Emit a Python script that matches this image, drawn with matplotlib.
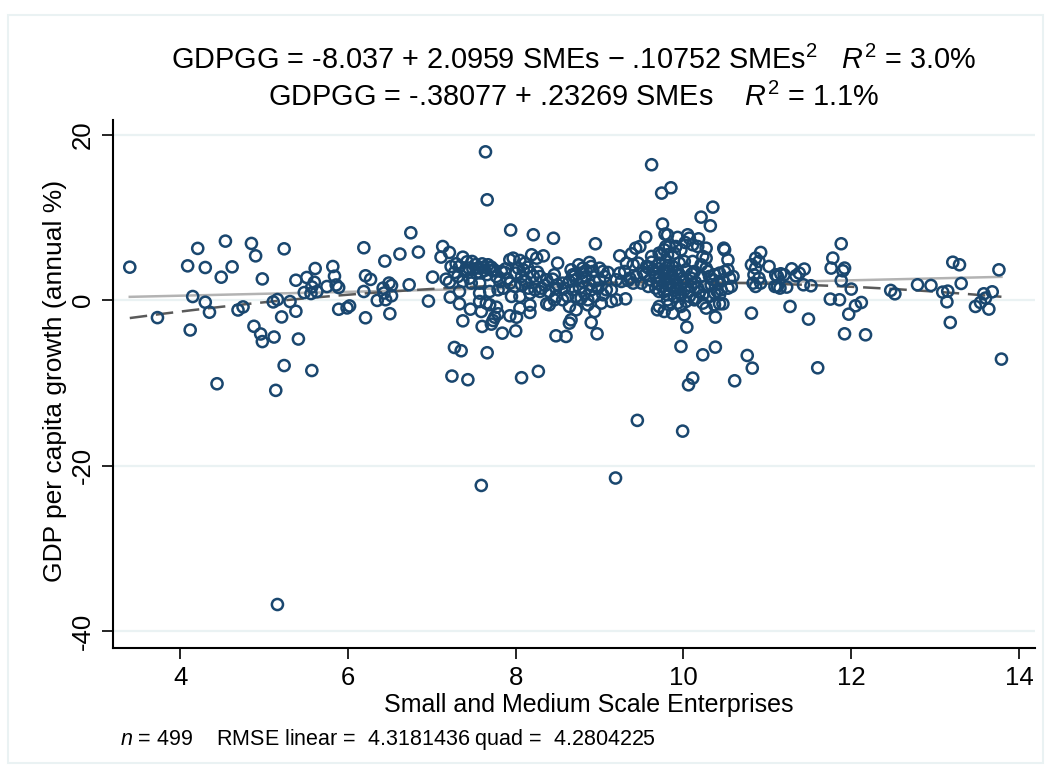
import numpy as np
import matplotlib
matplotlib.use('Agg')
from matplotlib import pyplot as plt
from matplotlib.patches import Rectangle

plt.rcParams['font.family'] = ['Liberation Sans', 'DejaVu Sans']
plt.rcParams['mathtext.fontset'] = 'custom'
plt.rcParams['mathtext.rm'] = 'Liberation Sans'
plt.rcParams['mathtext.it'] = 'Liberation Sans:italic'

# --- data (SMEs, GDP per capita growth) ---
# x from 3.4 to 6
smes_a = [3.40, 3.73, 4.09, 4.21, 4.15, 4.12, 4.30, 4.30, 4.35, 4.44, 4.54, 4.49, 4.62, 4.69, 4.75,
          4.85, 4.90, 4.98, 4.88, 4.96, 4.98, 5.12, 5.14, 5.24, 5.11, 5.16, 5.31, 5.21, 5.38, 5.38,
          5.41, 5.24, 5.57, 5.51, 5.61, 5.60, 5.57, 5.48, 5.56, 5.63, 5.75, 5.82, 5.84, 5.86, 5.89,
          5.89, 5.99, 6.02, 5.16]
gdp_a = [4.0, -2.1, 4.16, 6.27, 0.45, -3.6, 3.96, -0.24, -1.45, -10.1, 7.15, 2.79, 4.04, -1.18, -0.81,
         6.87, 5.37, 2.58, -3.15, -4.08, -5.0, -4.45, -10.9, 6.22, -0.2, 0.08, -0.16, -2.02, 2.42, -1.33,
         -4.69, -7.9, -8.5, 2.75, 3.84, 2.18, 1.61, 0.93, 0.81, 1.05, 1.66, 4.08, 2.91, 1.85, 1.54,
         -1.09, -0.93, -0.69, -36.8]

# x from 6 to 7.2 and the outliers around 7-10
smes_b = [7.64, 7.66, 6.75, 6.19, 6.62, 6.84, 6.44, 7.13, 7.11, 7.21, 7.94, 8.21, 8.45, 6.21, 6.27,
          6.19, 6.42, 6.49, 6.52, 6.43, 6.52, 6.45, 6.35, 6.73, 7.01, 6.96, 6.50, 6.21, 7.27, 7.35,
          7.24, 7.43, 7.66, 8.07, 8.27, 7.59, 9.19, 9.45, 9.99]
gdp_b = [17.95, 12.15, 8.16, 6.35, 5.59, 5.83, 4.74, 6.5, 5.22, 5.78, 8.49, 7.92, 7.5, 2.96, 2.52,
         1.06, 1.47, 2.08, 1.79, 0.87, 0.54, 0.06, -0.02, 1.87, 2.8, -0.1, -1.63, -2.12, -5.71, -6.11,
         -9.17, -9.61, -6.35, -9.37, -8.6, -22.4, -21.5, -14.53, -15.83]

# cluster from 7.2 to 8.5
smes_c = [7.37, 7.29, 7.23, 7.33, 7.42, 7.48, 7.27, 7.17, 7.21, 7.31, 7.41, 7.49, 7.53, 7.45, 7.37,
          7.47, 7.57, 7.62, 7.67, 7.71, 7.73, 7.77, 7.83, 7.87, 7.81, 7.93, 7.97, 8.05, 8.11, 8.14,
          8.19, 8.25, 8.33, 8.03, 8.09, 8.00, 8.07, 8.17, 8.26, 8.29, 8.37, 8.44, 8.50, 7.93, 7.99,
          8.07, 8.15, 8.23, 8.31, 8.40, 8.48, 7.85, 7.79, 7.33, 7.57, 7.69, 7.95, 8.05, 8.17, 8.29,
          8.48, 8.40, 8.46, 7.22, 7.33, 7.46, 7.59, 7.57, 7.65, 7.69, 7.77, 7.79, 7.75, 7.73, 7.71,
          7.37, 7.60, 7.84, 8.00, 7.93, 8.01, 8.05, 8.17, 8.17, 8.37, 8.48,
          7.55, 7.63, 7.69, 7.58, 7.66, 7.74, 7.52, 7.60, 7.44, 7.40, 7.90, 8.12, 8.21, 7.88, 8.35]
gdp_c = [5.21, 4.41, 4.08, 4.08, 4.65, 4.69, 3.36, 2.55, 2.19, 2.87, 3.68, 3.76, 3.28, 2.67, 2.27,
         2.07, 2.07, 4.0, 4.29, 4.0, 3.56, 2.87, 3.48, 3.36, 2.27, 4.89, 5.09, 4.81, 4.49, 4.0,
         5.5, 5.09, 5.37, 3.88, 3.68, 3.28, 2.87, 3.36, 3.4, 2.87, 2.47, 2.55, 4.49, 2.07, 1.67,
         1.87, 1.46, 1.26, 1.46, 1.06, 1.46, 1.46, 1.26, 1.06, 0.86, 1.06, 0.46, 0.46, 0.86, 1.06,
         0.46, -0.55, 0.05, 0.37, -0.43, -1.08, -1.36, -0.15, -0.35, -0.55, -0.84, -1.64, -2.05, -2.45, -2.89,
         -2.49, -3.17, -3.98, -3.7, -1.88, -2.05, -0.96, -0.59, -1.48, -0.43, -4.3,
         3.9, 3.6, 3.95, 3.3, 3.1, 3.7, 4.3, 4.4, 3.9, 3.5, 2.6, 2.3, 2.9, 3.8, 1.8]

# cluster from 8.5 to 9.8
smes_d = [8.95, 9.55, 9.81, 8.46, 8.66, 8.68, 8.75, 8.80, 8.78, 8.88, 8.90, 8.92, 8.84, 9.00, 9.04,
          9.10, 9.06, 9.00, 8.94, 8.88, 8.80, 8.72, 8.64, 8.56, 8.50, 8.58, 8.68, 8.76, 8.82, 8.90,
          8.98, 9.08, 9.14, 9.04, 8.94, 8.86, 8.78, 8.72, 8.62, 8.56, 8.64, 8.72, 8.86, 8.94, 9.02,
          9.14, 9.20, 9.31, 8.66, 8.64, 8.90, 8.97, 8.60, 9.24, 9.38, 9.43, 9.48, 9.62, 9.71, 9.79,
          9.32, 9.40, 9.46, 9.56, 9.64, 9.81, 9.24, 9.30, 9.20, 9.26, 9.36, 9.44, 9.54, 9.60, 9.67,
          9.81, 9.40, 9.50, 9.58, 9.67, 9.77, 9.69, 9.81, 9.62, 9.74, 9.85, 9.75, 9.69,
          9.52, 9.58, 9.65, 9.70, 9.62, 8.84, 8.70, 9.34]
gdp_d = [6.83, 7.63, 7.9, 3.08, 3.68, 3.08, 4.29, 3.88, 3.28, 4.57, 4.08, 3.48, 2.87, 3.88, 3.48,
         3.36, 2.87, 2.47, 2.27, 1.87, 2.27, 2.47, 2.27, 2.07, 1.87, 1.46, 1.26, 1.46, 0.86, 1.26,
         1.46, 1.26, 1.26, 0.66, 0.46, 0.05, 0.25, 0.46, 0.46, 0.05, -0.75, -1.16, -0.55, -1.36, -0.35,
         -0.15, 0.05, 0.17, -2.37, -2.77, -2.69, -4.06, -4.38, 5.37, 5.62, 6.3, 6.5, 5.3, 5.7, 6.5,
         4.49, 4.29, 4.49, 4.08, 3.68, 3.28, 3.28, 3.48, 2.47, 2.27, 2.67, 2.87, 3.08, 2.47, 2.87,
         1.87, 2.07, 2.07, 1.67, 1.46, 1.06, -1.16, 0.05, 16.39, 12.96, 13.6, 9.21, 2.0,
         3.4, 3.9, 3.3, 3.8, 4.6, 3.6, 2.9, 2.4]

# cluster from 9.7 to 11.1
smes_e = [10.35, 10.21, 10.32, 9.93, 10.05, 10.07, 10.18, 10.02, 10.11, 10.17, 10.27, 9.91, 9.83, 9.77,
          9.97, 9.89, 9.81, 9.73, 9.71, 9.79, 9.87, 9.95, 10.01, 10.11, 10.23, 10.27, 10.21, 10.27,
          10.29, 10.03, 10.13, 9.93, 9.83, 9.77, 9.71, 9.79, 9.89, 9.99, 10.09, 10.21, 10.31, 10.37,
          10.43, 10.49, 10.53, 10.55, 10.59, 10.47, 10.41, 10.33, 10.25, 10.17, 10.09, 10.01, 9.93,
          9.85, 9.75, 9.71, 9.81, 9.89, 9.97, 10.07, 10.15, 10.23, 10.31, 10.37, 10.45, 10.53, 10.57,
          10.49, 10.53, 10.48, 10.43, 10.23, 10.13, 10.03, 9.93, 9.83, 9.71, 9.77, 9.87, 9.97, 10.01,
          10.27, 10.37, 10.43, 10.47, 10.38, 10.04, 9.97, 10.23, 10.38, 10.11, 10.06, 10.61, 10.76,
          10.82, 10.81, 10.92, 10.86, 10.90, 10.81, 11.02, 10.86, 10.84, 10.90, 10.83, 10.92, 10.86,
          11.10, 11.12, 9.78,
          9.80, 9.86, 9.92, 10.00, 10.06, 9.84, 9.90, 9.96, 10.14, 10.19, 9.76, 9.82, 10.10, 10.35, 10.40]
gdp_e = [11.26, 10.05, 9.0, 7.6, 7.92, 7.51, 7.43, 6.99, 6.71, 6.5, 6.3, 6.5, 6.5, 6.1,
         6.1, 5.7, 5.5, 5.5, 4.49, 4.69, 4.09, 4.49, 4.69, 4.69, 5.3, 5.09, 4.29, 3.88,
         3.48, 3.68, 3.48, 3.48, 3.48, 3.28, 2.88, 2.47, 2.47, 2.67, 2.67, 2.88, 2.88, 3.08,
         3.28, 3.48, 3.68, 2.67, 2.88, 2.47, 2.07, 1.87, 1.67, 1.46, 1.67, 1.26, 1.46,
         1.67, 1.67, 1.06, 0.66, 0.46, 0.66, 0.46, 0.25, 0.66, 0.46, 0.86, 1.26, 1.46, 1.67,
         6.1, 4.89, 6.3, 0.66, -0.35, 0.05, -0.15, -0.35, -0.55, -0.75, -1.36, -1.56, -0.75, -1.76,
         -0.95, -0.55, -0.43, -0.43, -2.04, -3.25, -5.59, -6.6, -5.67, -9.42, -10.23, -9.74, -6.68,
         -8.21, -1.56, 5.78, 5.09, 4.69, 4.29, 4.09, 3.88, 3.08, 2.67, 2.07, 2.07, 1.67,
         3.08, 1.67, 8.0,
         3.9, 3.1, 2.1, 2.2, 1.0, 2.0, 1.2, 3.0, 2.2, 1.0, 3.6, 4.2, 3.2, 2.5, 1.1]

# x from 11.1 to 13.8
smes_f = [11.09, 11.15, 11.12, 11.16, 11.20, 11.23, 11.29, 11.34, 11.38, 11.44, 11.43, 11.52, 11.27,
          11.49, 11.60, 11.76, 11.78, 11.88, 11.90, 11.92, 11.88, 12.00, 11.75, 11.86, 11.97, 12.05,
          12.12, 11.92, 12.17, 12.47, 12.52, 12.79, 12.95, 13.09, 13.15, 13.14, 13.18, 13.21, 13.29,
          13.31, 13.58, 13.68, 13.60, 13.54, 13.48, 13.64, 13.76, 13.79]
gdp_f = [1.67, 1.47, 2.88, 3.2, 3.08, 1.59, 3.8, 2.96, 3.28, 3.77, 1.87, 1.75, -0.75,
         -2.28, -8.17, 3.89, 5.1, 6.83, 3.56, 3.89, 2.39, 1.35, 0.14, 0.06, -1.68, -0.67,
         -0.27, -4.06, -4.18, 1.19, 0.78, 1.87, 1.79, 0.98, 1.1, -0.19, -2.69, 4.6, 4.29,
         2.03, 0.78, 1.02, 0.26, -0.27, -0.75, -1.07, 3.68, -7.12]

smes = np.array(smes_a + smes_b + smes_c + smes_d + smes_e + smes_f)
gdp = np.array(gdp_a + gdp_b + gdp_c + gdp_d + gdp_e + gdp_f)

# fitted lines from the equations in the title
lin_coef = [-0.38077, 0.23269]
quad_coef = [-8.037, 2.0959, -0.10752]

x_ticks = [4, 6, 8, 10, 12, 14]
y_ticks = [-40, -20, 0, 20]

navy = '#1a476f'
grid_col = '#eaf2f3'

fig = plt.figure(figsize=(10.51, 7.71), dpi=100)
ax = fig.add_axes([113 / 1051, 1 - 648 / 771, (1035 - 113) / 1051, (648 - 120) / 771])

xf = np.linspace(smes.min(), smes.max(), 200)
ax.plot(xf, lin_coef[0] + lin_coef[1] * xf, color='#b3b3b3', lw=1.8, zorder=2)
ax.plot(xf, quad_coef[0] + quad_coef[1] * xf + quad_coef[2] * xf ** 2, color='#5a5a5a', lw=1.8,
        dashes=(7, 3.5), zorder=2)
ax.scatter(smes, gdp, s=64, facecolors='none', edgecolors=navy, linewidths=1.8, zorder=3)

ax.set_xlim(3.2, 14.19)
ax.set_ylim(-42.06, 21.8)
ax.set_xticks(x_ticks)
ax.set_yticks(y_ticks)
ax.set_yticklabels([str(v) for v in y_ticks], rotation=90, va='center')
ax.tick_params(axis='both', direction='out', length=8, width=1.2, labelsize=18.5, colors='black')
ax.tick_params(axis='y', pad=5)
ax.tick_params(axis='x', pad=5)
for v in y_ticks:
    ax.axhline(v, color=grid_col, lw=1.6, zorder=0)
for s in ['top', 'right']:
    ax.spines[s].set_visible(False)
for s in ['left', 'bottom']:
    ax.spines[s].set_linewidth(1.5)

fig.text(574 / 1051, 1 - 60 / 771,
         'GDPGG = -8.037 + 2.0959 SMEs \u2212 .10752 SMEs$^2$   $R^2$ = 3.0%',
         ha='center', va='center', fontsize=20.8)
fig.text(574 / 1051, 1 - 97 / 771,
         'GDPGG = -.38077 + .23269 SMEs    $R^2$ = 1.1%',
         ha='center', va='center', fontsize=20.8)
fig.text(55 / 1051, 1 - 381 / 771, 'GDP per capita growth (annual %)', rotation=90,
         ha='center', va='center', fontsize=19)
fig.text(589 / 1051, 1 - 705 / 771, 'Small and Medium Scale Enterprises',
         ha='center', va='center', fontsize=18)
fig.text(120 / 1051, 1 - 740 / 771,
         '$n$ = 499    RMSE linear =  4.3181436 quad =  4.2804225',
         ha='left', va='center', fontsize=15.5)

fig.patches.append(Rectangle((8 / 1051, 8 / 771), 1 - 16 / 1051, 1 - 23 / 771,
                             transform=fig.transFigure, fill=False, edgecolor=grid_col, lw=1.5))

fig.savefig('out.png', dpi=100)
